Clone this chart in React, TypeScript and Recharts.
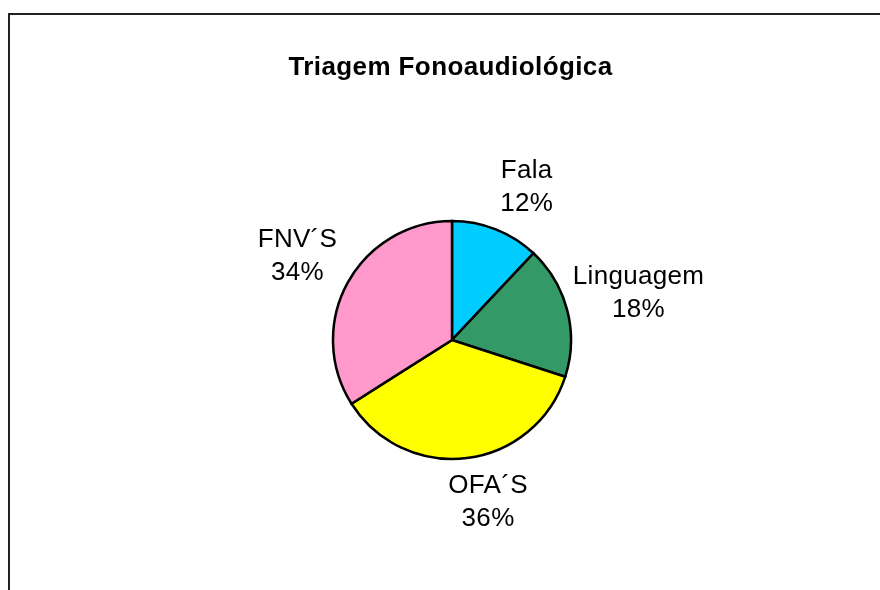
import React from "react";
import { PieChart, Pie, Cell } from "recharts";

const categories = ["Fala", "Linguagem", "OFA´S", "FNV´S"];
const values = [12, 18, 36, 34];
const colors = ["#00CCFF", "#339966", "#FFFF00", "#FF99CC"];
const title = "Triagem Fonoaudiológica";

const data = categories.map((name, i) => ({ name, value: values[i] }));

const FONT = "'Liberation Sans', Arial, sans-serif";
const RAD = Math.PI / 180;

const renderLabel = (props: any) => {
  const { cx, cy, midAngle, name, percent } = props;
  const pct = `${Math.round(percent * 100)}%`;
  const maxLen = Math.max(String(name).length, pct.length);
  const halfW = maxLen * 7.25;
  const c = Math.cos(midAngle * RAD);
  const s = Math.sin(midAngle * RAD);
  const d = 160 + 0.515 * Math.abs(c) * halfW;
  const x = cx + d * c + 16 * Math.max(0, Math.abs(s) - 0.5) * 2;
  const y = cy - d * s;
  return (
    <text
      x={x}
      y={y}
      textAnchor="middle"
      fill="#000"
      style={{ fontFamily: FONT, fontSize: 26, letterSpacing: 0.3 }}
    >
      <tspan x={x} y={y - 8}>{name}</tspan>
      <tspan x={x} y={y + 25}>{pct}</tspan>
    </text>
  );
};

export default function App() {
  return (
    <div style={{ position: "relative", width: 872, height: 574 }}>
      <div
        style={{
          position: "fixed",
          top: 13,
          left: 8,
          width: 872,
          height: 600,
          borderTop: "2px solid #222",
          borderLeft: "2px solid #222",
          boxSizing: "border-box",
        }}
      />
      <div style={{ position: "absolute", top: 0, left: 0 }}>
        <PieChart width={872} height={574}>
          <Pie
            data={data}
            dataKey="value"
            nameKey="name"
            cx={439}
            cy={327}
            outerRadius={119}
            startAngle={90}
            endAngle={-270}
            stroke="#000"
            strokeWidth={2.5}
            label={renderLabel}
            labelLine={false}
            isAnimationActive={false}
          >
            {data.map((d, i) => (
              <Cell key={d.name} fill={colors[i]} />
            ))}
          </Pie>
        </PieChart>
      </div>
      <svg
        width={872}
        height={574}
        style={{ position: "absolute", top: 0, left: 0, pointerEvents: "none" }}
      >
        <text
          x={442.5}
          y={67}
          textAnchor="middle"
          fill="#000"
          style={{ fontFamily: FONT, fontSize: 26, fontWeight: "bold", letterSpacing: 0.4 }}
        >
          {title}
        </text>
      </svg>
    </div>
  );
}
